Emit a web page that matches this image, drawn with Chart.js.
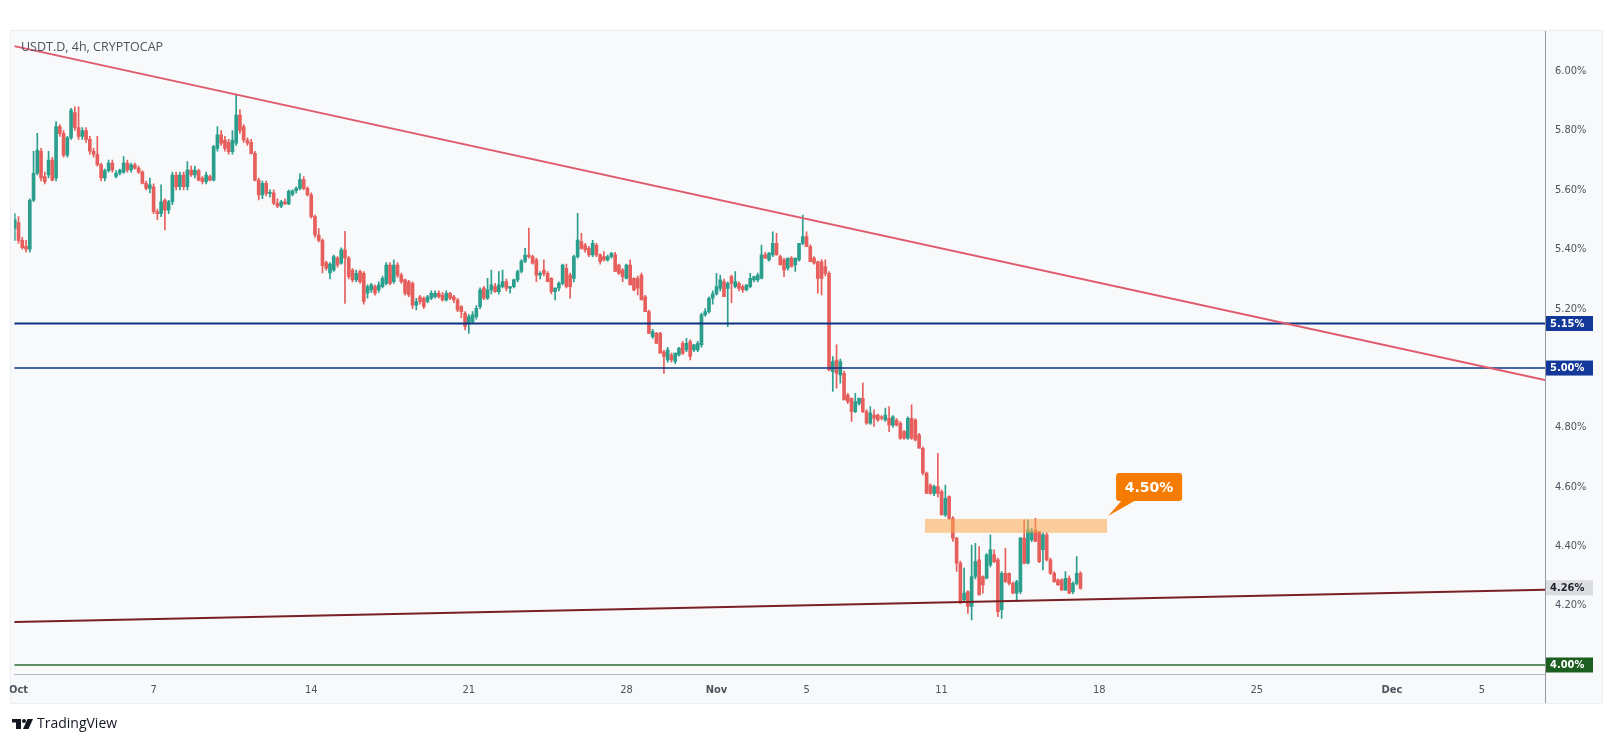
<!DOCTYPE html>
<html><head><meta charset="utf-8">
<script src="https://cdn.jsdelivr.net/npm/chart.js@4.4.1/dist/chart.umd.min.js"></script>
<style>html,body{margin:0;padding:0;background:#fff;overflow:hidden}</style>
</head><body><canvas id="c" width="1615" height="744"></canvas>
<script>
// ---- DATA (USDT.D, 4h candles, from Sep 30 20:00) ----
const firstCandleDay = -1/6;   // days relative to Oct 1 00:00
const candleStepDays = 1/6;    // 4h
const opens = [5.47,5.49,5.43,5.41,5.40,5.565,5.656,5.73,5.645,5.65,5.70,5.64,5.813,5.79,5.717,5.775,5.86,5.81,5.78,5.80,5.77,5.73,5.72,5.685,5.64,5.665,5.69,5.645,5.656,5.66,5.69,5.667,5.684,5.673,5.66,5.622,5.605,5.61,5.527,5.52,5.566,5.532,5.56,5.65,5.611,5.65,5.611,5.667,5.65,5.665,5.64,5.628,5.645,5.633,5.74,5.785,5.768,5.76,5.729,5.757,5.852,5.813,5.768,5.76,5.723,5.633,5.583,5.622,5.588,5.59,5.555,5.545,5.56,5.553,5.585,5.597,5.605,5.635,5.605,5.583,5.51,5.448,5.43,5.355,5.32,5.33,5.37,5.353,5.398,5.37,5.33,5.297,5.325,5.319,5.252,5.263,5.274,5.263,5.274,5.285,5.347,5.291,5.347,5.313,5.297,5.29,5.285,5.212,5.24,5.235,5.224,5.235,5.24,5.252,5.246,5.229,5.252,5.24,5.229,5.207,5.184,5.151,5.156,5.173,5.207,5.269,5.235,5.263,5.274,5.257,5.274,5.291,5.269,5.274,5.297,5.325,5.36,5.38,5.375,5.364,5.313,5.33,5.319,5.302,5.257,5.269,5.285,5.336,5.313,5.302,5.375,5.426,5.414,5.403,5.381,5.414,5.381,5.375,5.364,5.375,5.381,5.347,5.33,5.302,5.347,5.302,5.302,5.313,5.24,5.19,5.106,5.117,5.117,5.055,5.027,5.044,5.022,5.044,5.083,5.061,5.089,5.061,5.061,5.078,5.179,5.19,5.235,5.25,5.268,5.291,5.268,5.308,5.274,5.285,5.274,5.263,5.274,5.297,5.297,5.302,5.381,5.364,5.381,5.42,5.375,5.364,5.336,5.37,5.347,5.364,5.42,5.443,5.409,5.37,5.358,5.358,5.342,5.319,4.988,5.027,4.977,4.982,4.909,4.898,4.853,4.881,4.898,4.853,4.814,4.842,4.842,4.836,4.825,4.831,4.808,4.825,4.814,4.786,4.764,4.831,4.825,4.775,4.730,4.646,4.606,4.578,4.601,4.584,4.505,4.567,4.494,4.427,4.343,4.219,4.247,4.197,4.298,4.354,4.298,4.292,4.337,4.371,4.354,4.186,4.309,4.309,4.275,4.242,4.247,4.427,4.343,4.421,4.455,4.449,4.388,4.438,4.354,4.309,4.287,4.287,4.253,4.292,4.247,4.275,4.309];
const highs = [5.52,5.51,5.44,5.43,5.57,5.73,5.79,5.74,5.66,5.73,5.71,5.83,5.82,5.80,5.78,5.875,5.88,5.88,5.81,5.81,5.78,5.74,5.78,5.69,5.67,5.70,5.70,5.665,5.67,5.712,5.70,5.69,5.69,5.68,5.665,5.63,5.64,5.62,5.535,5.617,5.57,5.565,5.66,5.66,5.66,5.66,5.695,5.68,5.68,5.67,5.645,5.66,5.65,5.75,5.813,5.80,5.78,5.77,5.80,5.92,5.87,5.82,5.775,5.77,5.73,5.64,5.63,5.63,5.60,5.60,5.57,5.565,5.57,5.60,5.60,5.61,5.655,5.645,5.61,5.59,5.515,5.47,5.435,5.36,5.355,5.38,5.375,5.405,5.46,5.375,5.335,5.33,5.33,5.325,5.28,5.285,5.28,5.29,5.31,5.355,5.355,5.364,5.355,5.32,5.30,5.295,5.29,5.235,5.245,5.24,5.245,5.26,5.26,5.26,5.255,5.26,5.255,5.245,5.235,5.21,5.19,5.18,5.19,5.21,5.27,5.275,5.302,5.33,5.285,5.325,5.33,5.30,5.275,5.30,5.33,5.365,5.403,5.471,5.38,5.37,5.325,5.364,5.325,5.305,5.27,5.29,5.35,5.35,5.32,5.38,5.521,5.454,5.42,5.41,5.43,5.42,5.385,5.392,5.38,5.39,5.39,5.35,5.335,5.35,5.364,5.305,5.31,5.32,5.245,5.195,5.13,5.12,5.12,5.06,5.07,5.05,5.05,5.07,5.09,5.10,5.095,5.08,5.09,5.185,5.20,5.24,5.26,5.319,5.313,5.30,5.29,5.313,5.325,5.29,5.28,5.28,5.319,5.31,5.32,5.414,5.39,5.39,5.459,5.454,5.38,5.37,5.37,5.375,5.37,5.42,5.515,5.459,5.415,5.375,5.36,5.365,5.364,5.325,5.039,5.078,5.03,4.99,4.915,4.90,4.915,4.90,4.949,4.86,4.87,4.859,4.845,4.84,4.865,4.87,4.84,4.83,4.82,4.79,4.836,4.876,4.83,4.78,4.735,4.65,4.61,4.606,4.713,4.59,4.606,4.57,4.50,4.43,4.35,4.326,4.25,4.404,4.41,4.399,4.30,4.375,4.438,4.388,4.36,4.315,4.393,4.31,4.28,4.285,4.43,4.489,4.489,4.46,4.494,4.45,4.445,4.445,4.36,4.315,4.29,4.29,4.315,4.30,4.28,4.365,4.315];
const lows = [5.43,5.42,5.40,5.39,5.39,5.56,5.65,5.63,5.62,5.64,5.63,5.63,5.78,5.71,5.71,5.77,5.80,5.77,5.77,5.76,5.72,5.71,5.68,5.63,5.63,5.66,5.66,5.64,5.65,5.655,5.66,5.66,5.67,5.655,5.62,5.60,5.59,5.52,5.50,5.51,5.465,5.52,5.55,5.60,5.60,5.60,5.60,5.645,5.64,5.63,5.62,5.62,5.63,5.63,5.73,5.75,5.73,5.72,5.72,5.75,5.79,5.76,5.75,5.72,5.63,5.566,5.57,5.58,5.575,5.55,5.54,5.54,5.55,5.55,5.58,5.59,5.60,5.60,5.58,5.505,5.44,5.425,5.32,5.33,5.30,5.325,5.34,5.35,5.218,5.30,5.29,5.29,5.285,5.215,5.235,5.255,5.245,5.255,5.27,5.28,5.28,5.285,5.305,5.285,5.245,5.24,5.20,5.196,5.215,5.20,5.22,5.23,5.235,5.235,5.225,5.225,5.23,5.22,5.19,5.17,5.128,5.117,5.15,5.165,5.20,5.23,5.23,5.25,5.255,5.25,5.27,5.26,5.252,5.27,5.29,5.32,5.355,5.37,5.35,5.291,5.30,5.31,5.29,5.25,5.229,5.26,5.28,5.27,5.235,5.29,5.37,5.40,5.39,5.375,5.375,5.375,5.35,5.36,5.36,5.37,5.325,5.315,5.291,5.30,5.28,5.26,5.246,5.229,5.19,5.117,5.10,5.083,5.05,4.982,5.02,5.02,5.015,5.04,5.045,5.055,5.027,5.055,5.055,5.07,5.175,5.185,5.215,5.245,5.26,5.24,5.139,5.22,5.27,5.26,5.255,5.26,5.27,5.29,5.29,5.30,5.37,5.36,5.375,5.38,5.347,5.308,5.33,5.34,5.325,5.36,5.415,5.41,5.36,5.35,5.252,5.246,5.31,4.99,4.921,4.932,4.949,4.893,4.88,4.82,4.85,4.875,4.85,4.81,4.81,4.803,4.82,4.825,4.82,4.786,4.80,4.805,4.76,4.76,4.76,4.76,4.755,4.73,4.64,4.578,4.575,4.57,4.565,4.505,4.50,4.49,4.416,4.315,4.208,4.21,4.174,4.152,4.29,4.236,4.242,4.29,4.33,4.345,4.163,4.157,4.278,4.27,4.24,4.214,4.24,4.34,4.34,4.415,4.415,4.345,4.32,4.35,4.305,4.278,4.268,4.25,4.25,4.24,4.24,4.27,4.255];
const closes = [5.50,5.43,5.405,5.40,5.565,5.656,5.734,5.64,5.628,5.70,5.633,5.813,5.79,5.717,5.775,5.869,5.81,5.78,5.80,5.77,5.73,5.72,5.685,5.64,5.665,5.69,5.667,5.656,5.667,5.69,5.667,5.684,5.673,5.66,5.622,5.605,5.617,5.527,5.52,5.56,5.532,5.56,5.65,5.611,5.65,5.611,5.667,5.65,5.667,5.633,5.628,5.65,5.633,5.746,5.785,5.757,5.74,5.729,5.768,5.852,5.80,5.768,5.757,5.723,5.633,5.583,5.622,5.588,5.59,5.555,5.545,5.56,5.553,5.595,5.597,5.605,5.635,5.605,5.583,5.51,5.448,5.43,5.345,5.336,5.35,5.375,5.347,5.398,5.37,5.308,5.297,5.319,5.291,5.224,5.274,5.28,5.252,5.28,5.302,5.347,5.285,5.347,5.313,5.291,5.252,5.246,5.212,5.224,5.224,5.207,5.24,5.252,5.252,5.24,5.229,5.252,5.235,5.229,5.196,5.19,5.14,5.173,5.179,5.201,5.263,5.235,5.263,5.28,5.257,5.28,5.291,5.269,5.274,5.297,5.325,5.36,5.38,5.375,5.353,5.313,5.319,5.319,5.291,5.257,5.269,5.285,5.347,5.274,5.274,5.375,5.431,5.403,5.398,5.381,5.42,5.381,5.358,5.364,5.375,5.386,5.325,5.319,5.308,5.347,5.28,5.263,5.269,5.229,5.19,5.117,5.123,5.083,5.05,5.039,5.061,5.027,5.05,5.066,5.05,5.083,5.039,5.078,5.083,5.179,5.19,5.235,5.25,5.274,5.297,5.24,5.285,5.285,5.291,5.268,5.263,5.28,5.302,5.308,5.313,5.381,5.37,5.386,5.42,5.381,5.347,5.33,5.37,5.342,5.37,5.42,5.443,5.409,5.358,5.353,5.302,5.302,5.319,4.994,5.022,4.982,5.022,4.893,4.887,4.853,4.887,4.898,4.853,4.814,4.848,4.831,4.825,4.831,4.842,4.808,4.836,4.808,4.764,4.764,4.831,4.764,4.758,4.730,4.646,4.578,4.578,4.601,4.578,4.505,4.561,4.494,4.427,4.343,4.208,4.242,4.197,4.298,4.348,4.236,4.27,4.371,4.388,4.348,4.180,4.309,4.281,4.275,4.242,4.281,4.427,4.343,4.455,4.449,4.416,4.348,4.438,4.354,4.309,4.281,4.27,4.253,4.292,4.242,4.275,4.309,4.258];

// axes
const xTickValues = [0,6,13,20,27,31,35,41,48,55,61,65];
const xTickLabels = ['Oct','7','14','21','28','Nov','5','11','18','25','Dec','5'];
const monthLabels = ['Oct','Nov','Dec'];
const yTickValues = [4.2,4.4,4.6,4.8,5.2,5.4,5.6,5.8,6.0];
const xMin = -0.19, xMax = 67.8, yMin = 3.968, yMax = 6.135;

// drawings
const upperTrendX = [-0.19, 67.8], upperTrendY = [6.084, 4.960];
const lowerTrendX = [-0.19, 67.8], lowerTrendY = [4.145, 4.253];
const levelValues = [5.15, 5.00, 4.00];
const levelColors = ['#0d3384', '#0d3384', '#2b6e2f'];
const levelWidths = [2, 1.6, 1.6];
const zoneStartDay = 40.26, zoneEndDay = 48.35, zoneLow = 4.445, zoneHigh = 4.492;
const calloutText = '4.50%';
const badgeValues = [5.15, 5.00, 4.26, 4.00];
const badgeLabels = ['5.15%', '5.00%', '4.26%', '4.00%'];
const badgeBg = ['#12389a', '#12389a', '#dcdde0', '#1b5e20'];
const badgeFg = ['#ffffff', '#ffffff', '#1e222d', '#ffffff'];
const title = 'USDT.D, 4h, CRYPTOCAP';

// ---- CHART ----
const UP = '#2a9f8e', DOWN = '#e65f5c';
const FONT = "'DejaVu Sans Condensed','DejaVu Sans',sans-serif";
const xs = opens.map((_, i) => firstCandleDay + i * candleStepDays);
const colors = opens.map((o, i) => closes[i] >= o ? UP : DOWN);

const lineDs = (X, Y, color, width) => ({
  type: 'line', data: X.map((x, k) => ({x, y: Y[k]})), borderColor: color, borderWidth: width,
  pointRadius: 0, fill: false, tension: 0, order: 0
});

const datasets = [
  { type: 'bar', data: xs.map((x, i) => ({x, y: [lows[i], highs[i]]})), backgroundColor: colors,
    barThickness: 1, grouped: false, order: 3, minBarLength: 1 },
  { type: 'bar', data: xs.map((x, i) => ({x, y: [opens[i], closes[i]]})), backgroundColor: colors,
    barThickness: 3, grouped: false, order: 2, minBarLength: 1 },
  lineDs(upperTrendX, upperTrendY, '#e05a6c', 2),
  lineDs(lowerTrendX, lowerTrendY, '#7a1f22', 2),
  ...levelValues.map((v, k) => lineDs([xMin, xMax], [v, v], levelColors[k], levelWidths[k]))
];

function rr(ctx, x, y, w, h, r) {
  ctx.beginPath(); ctx.moveTo(x + r, y); ctx.lineTo(x + w - r, y); ctx.quadraticCurveTo(x + w, y, x + w, y + r);
  ctx.lineTo(x + w, y + h - r); ctx.quadraticCurveTo(x + w, y + h, x + w - r, y + h); ctx.lineTo(x + r, y + h);
  ctx.quadraticCurveTo(x, y + h, x, y + h - r); ctx.lineTo(x, y + r); ctx.quadraticCurveTo(x, y, x + r, y); ctx.closePath();
}

const overlay = {
  id: 'overlay',
  beforeDraw(c) {
    const ctx = c.ctx; ctx.save();
    ctx.fillStyle = '#ffffff'; ctx.fillRect(0, 0, c.width, c.height);
    ctx.fillStyle = '#f8f9fb'; ctx.fillRect(10, 30, 1593, 674);
    ctx.strokeStyle = '#eceef2'; ctx.lineWidth = 1; ctx.strokeRect(10.5, 30.5, 1592, 673);
    ctx.restore();
  },
  afterDatasetsDraw(c) {
    const ctx = c.ctx, x = c.scales.x, y = c.scales.y;
    const x0 = x.getPixelForValue(zoneStartDay), x1 = x.getPixelForValue(zoneEndDay);
    const y0 = y.getPixelForValue(zoneHigh), y1 = y.getPixelForValue(zoneLow);
    ctx.save(); ctx.fillStyle = 'rgba(251,168,76,0.55)'; ctx.fillRect(x0, y0, x1 - x0, y1 - y0); ctx.restore();
  },
  afterDraw(c) {
    const ctx = c.ctx, x = c.scales.x, y = c.scales.y, a = c.chartArea;
    ctx.save();
    // panel edge hides the start of the first month label
    ctx.fillStyle = '#ffffff'; ctx.fillRect(0, a.bottom + 1, 9.5, 30);
    // axis line continues through time axis
    ctx.strokeStyle = '#9598a1'; ctx.lineWidth = 1;
    ctx.beginPath(); ctx.moveTo(Math.round(a.right) + 0.5, a.bottom); ctx.lineTo(Math.round(a.right) + 0.5, 703); ctx.stroke();
    // callout
    const zx = x.getPixelForValue(zoneEndDay), zy = y.getPixelForValue(zoneHigh);
    const bx = zx + 9, by = zy - 46, bw = 66, bh = 28;
    ctx.fillStyle = '#f57c00';
    rr(ctx, bx, by, bw, bh, 3); ctx.fill();
    ctx.beginPath(); ctx.moveTo(bx + 6, by + bh - 1); ctx.lineTo(bx + 20, by + bh - 1); ctx.lineTo(zx + 1, zy - 3); ctx.closePath(); ctx.fill();
    ctx.fillStyle = '#ffffff'; ctx.font = "bold 14px 'DejaVu Sans','Liberation Sans',sans-serif";
    ctx.textAlign = 'center'; ctx.textBaseline = 'middle'; ctx.fillText(calloutText, bx + bw / 2, by + bh / 2 + 1);
    // badges
    ctx.font = "bold 11px " + FONT; ctx.textAlign = 'left';
    badgeValues.forEach((v, k) => {
      const py = y.getPixelForValue(v);
      ctx.fillStyle = badgeBg[k]; ctx.fillRect(a.right + 1, py - 7.5, 47, 15);
      ctx.fillStyle = badgeFg[k]; ctx.fillText(badgeLabels[k], a.right + 5, py + 0.5);
    });
    // title
    ctx.fillStyle = '#4e525c'; ctx.font = "12.5px 'Open Sans','DejaVu Sans',sans-serif"; ctx.textAlign = 'left';
    ctx.fillText(title, 21, 47);
    // logo
    ctx.fillStyle = '#131722';
    ctx.fillRect(12, 719, 9, 3.5); ctx.fillRect(16, 719, 5, 10);
    ctx.beginPath(); ctx.arc(24, 721, 2, 0, Math.PI * 2); ctx.fill();
    ctx.beginPath(); ctx.moveTo(27.5, 719); ctx.lineTo(33, 719); ctx.lineTo(28.5, 729); ctx.lineTo(23, 729); ctx.closePath(); ctx.fill();
    ctx.font = "14px 'Open Sans','Liberation Sans',sans-serif"; ctx.textBaseline = 'middle';
    ctx.fillText('TradingView', 37, 724);
    ctx.restore();
  }
};

new Chart(document.getElementById('c'), {
  type: 'bar',
  data: { datasets },
  options: {
    responsive: false, animation: false, events: [],
    layout: { padding: { left: 12, top: 31, right: 0, bottom: 0 } },
    plugins: { legend: { display: false }, tooltip: { enabled: false } },
    scales: {
      x: {
        type: 'linear', min: xMin, max: xMax, offset: false,
        afterBuildTicks: s => { s.ticks = xTickValues.map(v => ({ value: v })); },
        afterFit: s => { s.height = 69.5; },
        grid: { display: false, drawTicks: false },
        border: { display: true, color: '#b8bbc3' },
        ticks: {
          autoSkip: false, maxRotation: 0, padding: 9, color: '#4e525c',
          callback: (v, i) => xTickLabels[i],
          font: ctx => ({ family: FONT, size: 11, weight: monthLabels.includes(xTickLabels[ctx.index]) ? 'bold' : 'normal' })
        }
      },
      y: {
        type: 'linear', position: 'right', min: yMin, max: yMax,
        afterBuildTicks: s => { s.ticks = yTickValues.map(v => ({ value: v })); },
        afterFit: s => { s.width = 70; },
        grid: { display: false, drawTicks: false },
        border: { display: true, color: '#9598a1' },
        ticks: { padding: 10, color: '#4e525c', font: { family: FONT, size: 11 }, callback: v => v.toFixed(2) + '%' }
      }
    }
  },
  plugins: [overlay]
});
</script></body></html>
